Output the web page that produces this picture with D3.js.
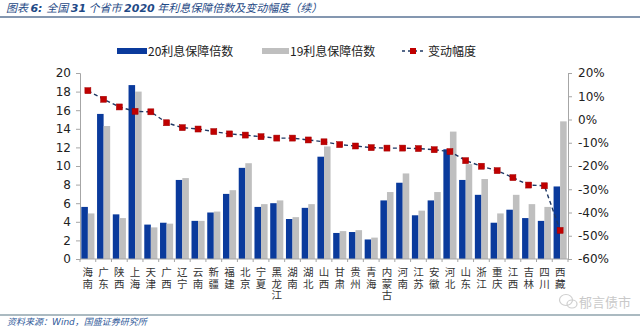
<!DOCTYPE html>
<html>
<head>
<meta charset="utf-8">
<script src="https://cdn.jsdelivr.net/npm/d3@7/dist/d3.min.js"></script>
<style>
  html, body { margin: 0; padding: 0; background: #fff; }
  svg { display: block; }
  .vlabel { writing-mode: vertical-rl; text-orientation: upright; }
</style>
</head>
<body>
<svg id="chart" width="640" height="328"></svg>
<script>
// Provinces in display order (sorted by change in interest coverage)
const provinces = ["海南","广东","陕西","上海","天津","广西","辽宁","云南","新疆","福建","北京","宁夏","黑龙江","湖南","湖北","山西","甘肃","贵州","青海","内蒙古","河南","江苏","安徽","河北","山东","浙江","重庆","江西","吉林","四川","西藏"];
// Interest coverage ratio, 2020
const coverage2020 = [5.6,15.6,4.8,18.7,3.7,3.9,8.5,4.1,5.0,7.0,9.8,5.6,6.0,4.3,5.5,11.0,2.8,2.9,2.1,6.3,8.2,4.7,6.3,11.8,8.5,6.9,3.9,5.3,4.4,4.1,7.8];
// Interest coverage ratio, 2019
const coverage2019 = [4.9,14.3,4.4,18.0,3.4,3.8,8.7,4.1,5.1,7.4,10.3,5.9,6.3,4.5,5.9,12.1,3.0,3.1,2.3,7.2,9.2,5.2,7.2,13.7,10.2,8.6,4.9,6.9,5.9,5.6,14.8];
// Year-on-year change (%)
const changePct = [12.4,8.7,5.4,3.5,3.3,-1.4,-3.5,-4.1,-5.2,-6.2,-6.7,-7.4,-8.0,-8.0,-8.8,-9.6,-10.8,-11.4,-12.1,-12.3,-12.3,-12.5,-13.0,-13.8,-17.7,-20.1,-22.0,-25.0,-28.2,-28.5,-47.7];
const leftTicks = [0,2,4,6,8,10,12,14,16,18,20];
const rightTicks = [-60,-50,-40,-30,-20,-10,0,10,20];
const seriesNames = ["20利息保障倍数","19利息保障倍数","变动幅度"];

const svg = d3.select("#chart");
const plot = { left: 80, right: 568, top: 73, bottom: 259 };

const BLUE = "#0a3a9c", GRAY = "#bfbfbf", RED = "#c00000", NAVY = "#1f3864", AXIS = "#a6a6a6";
const numFont = "'DejaVu Sans', Verdana, sans-serif";
const cjkFont = "'Noto Sans CJK SC', sans-serif";

const x = d3.scaleBand().domain(provinces).range([plot.left, plot.right]).paddingInner(0).paddingOuter(0);
const inner = d3.scaleBand().domain(["y20","y19"]).range([0, x.bandwidth()]).paddingInner(0).paddingOuter(0.2);
const yL = d3.scaleLinear().domain([0, 20]).range([plot.bottom, plot.top]);
const yR = d3.scaleLinear().domain([-60, 20]).range([plot.bottom, plot.top]);

// Title with rule underneath
const title = svg.append("text").attr("x", 6).attr("y", 12)
  .attr("font-family", cjkFont).attr("font-size", 11).attr("font-style", "italic").attr("fill", "#1f4a86");
[["图表 ", 400],["6: ", 700],["全国 ", 400],["31", 700],[" 个省市 ", 400],["2020", 700],[" 年利息保障倍数及变动幅度（续）", 400]]
  .forEach(([t, w]) => title.append("tspan").attr("font-weight", w)
    .attr("font-family", w === 700 ? "'DejaVu Sans', sans-serif" : cjkFont).text(t));
svg.append("line").attr("x1", 0).attr("x2", 640).attr("y1", 17).attr("y2", 17)
  .attr("stroke", "#8497b0").attr("stroke-width", 2);

// Legend
const lg = svg.append("g").attr("font-family", cjkFont).attr("font-size", 12).attr("fill", "#222");
lg.append("rect").attr("x", 117).attr("y", 48).attr("width", 30).attr("height", 6).attr("fill", BLUE);
lg.append("text").attr("x", 148).attr("y", 55.5).text(seriesNames[0]);
lg.append("rect").attr("x", 262).attr("y", 48).attr("width", 27).attr("height", 6).attr("fill", GRAY);
lg.append("text").attr("x", 290).attr("y", 55.5).text(seriesNames[1]);
lg.append("line").attr("x1", 402).attr("x2", 424).attr("y1", 51).attr("y2", 51)
  .attr("stroke", NAVY).attr("stroke-width", 1.3).attr("stroke-dasharray", "3,3");
lg.append("rect").attr("x", 410).attr("y", 48).attr("width", 6).attr("height", 6).attr("fill", RED);
lg.append("text").attr("x", 428).attr("y", 55.5).text(seriesNames[2]);

// Bars
const groups = svg.append("g").selectAll("g").data(provinces).join("g")
  .attr("transform", d => `translate(${x(d)},0)`);
groups.append("rect")
  .attr("x", inner("y20")).attr("width", inner.bandwidth())
  .attr("y", (d, i) => yL(coverage2020[i])).attr("height", (d, i) => yL(0) - yL(coverage2020[i]))
  .attr("fill", BLUE);
groups.append("rect")
  .attr("x", inner("y19")).attr("width", inner.bandwidth())
  .attr("y", (d, i) => yL(coverage2019[i])).attr("height", (d, i) => yL(0) - yL(coverage2019[i]))
  .attr("fill", GRAY);

// Left axis
const axL = svg.append("g").attr("transform", `translate(${plot.left},0)`)
  .call(d3.axisLeft(yL).tickValues(leftTicks).tickSize(4).tickPadding(5).tickFormat(d3.format("d")));
// Right axis
const axR = svg.append("g").attr("transform", `translate(${plot.right},0)`)
  .call(d3.axisRight(yR).tickValues(rightTicks).tickSize(4).tickPadding(6).tickFormat(d => d + "%"));
// Bottom axis with ticks at category boundaries
const axB = svg.append("g").attr("transform", `translate(0,${plot.bottom})`);
axB.append("line").attr("x1", plot.left).attr("x2", plot.right).attr("stroke", AXIS);
axB.selectAll("line.tk").data(d3.range(provinces.length + 1)).join("line").attr("class", "tk")
  .attr("x1", i => plot.left + i * x.step()).attr("x2", i => plot.left + i * x.step())
  .attr("y1", 0).attr("y2", 3).attr("stroke", AXIS);

[axL, axR].forEach(a => {
  a.select(".domain").attr("stroke", AXIS);
  a.selectAll(".tick line").attr("stroke", AXIS);
  a.selectAll(".tick text").attr("font-family", numFont).attr("font-size", 12).attr("fill", "#222");
});

// Vertical category labels (upright characters, top to bottom)
svg.append("g").attr("font-family", cjkFont).attr("font-size", 10.5).attr("fill", "#333")
  .selectAll("text").data(provinces).join("text")
  .attr("class", "vlabel")
  .attr("x", d => x(d) + x.bandwidth() / 2)
  .attr("y", 267)
  .attr("letter-spacing", 1)
  .text(d => d);

// Change line with square markers
const cx = (d, i) => x(provinces[i]) + x.bandwidth() / 2;
svg.append("path").datum(changePct)
  .attr("d", d3.line().x(cx).y(d => yR(d)))
  .attr("fill", "none").attr("stroke", NAVY).attr("stroke-width", 1.4).attr("stroke-dasharray", "4,3");
svg.append("g").selectAll("rect").data(changePct).join("rect")
  .attr("x", (d, i) => cx(d, i) - 3).attr("y", d => yR(d) - 3)
  .attr("width", 6).attr("height", 6).attr("fill", RED).attr("stroke", "#a00000").attr("stroke-width", 0.5);

// Watermark
const wm = svg.append("g").attr("fill", "none").attr("stroke", "#cfcfcf").attr("stroke-width", 1.2);
wm.append("ellipse").attr("cx", 566).attr("cy", 300).attr("rx", 6.5).attr("ry", 5.5);
wm.append("ellipse").attr("cx", 572).attr("cy", 304).attr("rx", 5).attr("ry", 4);
svg.append("text").attr("x", 631).attr("y", 307).attr("text-anchor", "end")
  .attr("font-family", cjkFont).attr("font-size", 13).attr("fill", "#c9c9c9").text("郁言债市");

// Source note
svg.append("line").attr("x1", 0).attr("x2", 640).attr("y1", 315).attr("y2", 315)
  .attr("stroke", "#8fa3ad").attr("stroke-width", 1.5);
const src = svg.append("text").attr("x", 7).attr("y", 325).attr("font-size", 9)
  .attr("font-style", "italic").attr("fill", "#2f5a9a");
src.append("tspan").attr("font-family", cjkFont).text("资料来源：");
src.append("tspan").attr("font-family", numFont).text("Wind");
src.append("tspan").attr("font-family", cjkFont).text("，国盛证券研究所");
</script>
</body>
</html>
